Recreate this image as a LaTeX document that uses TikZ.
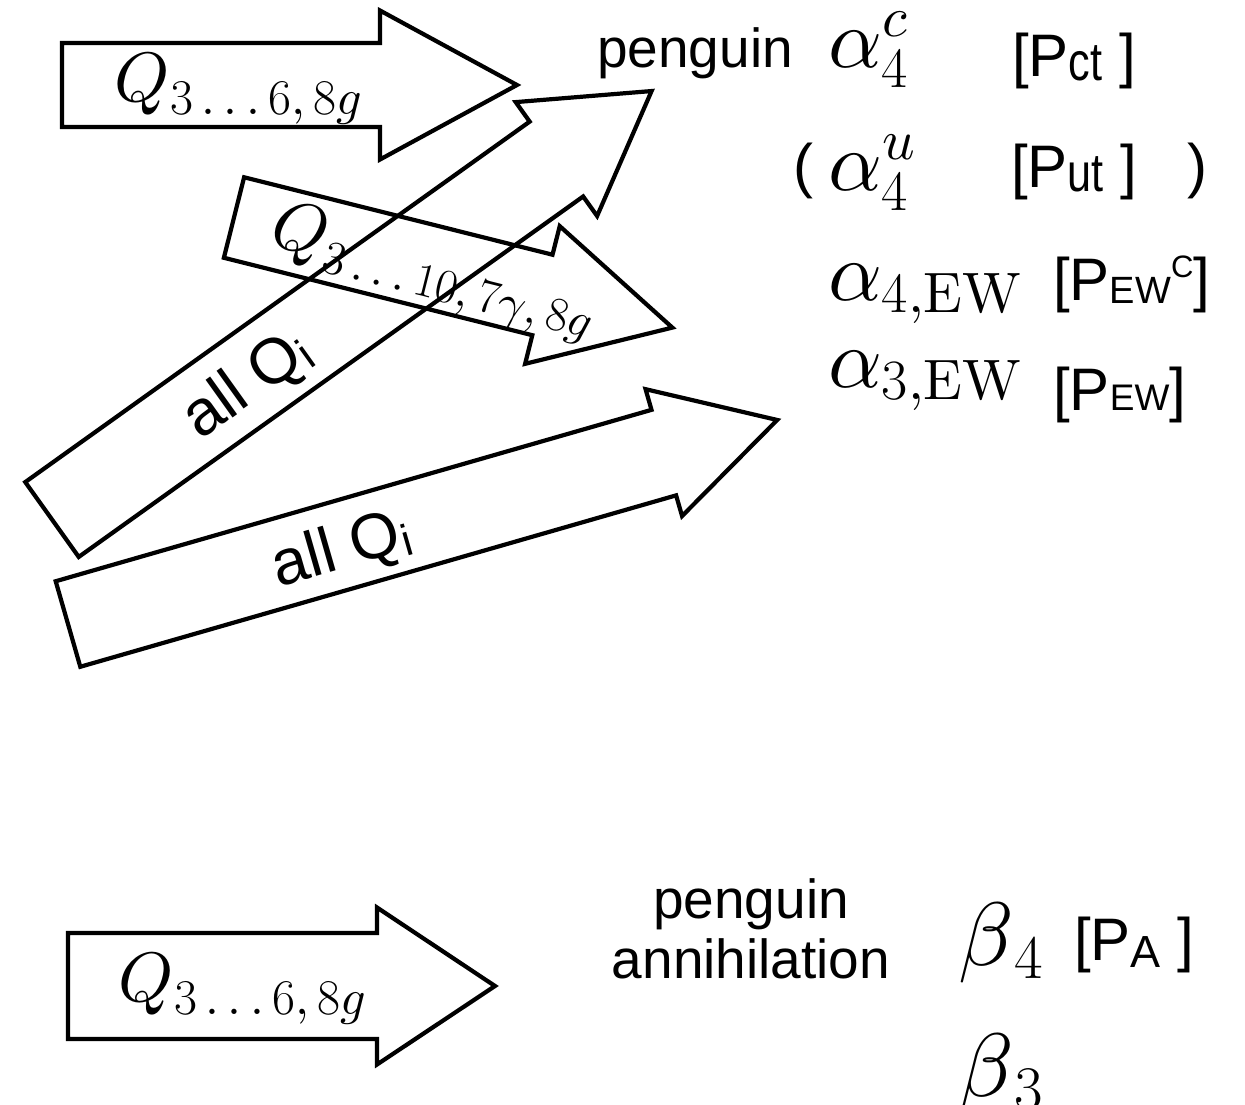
\RequirePackage{fix-cm}
\documentclass[tikz,border=0pt]{standalone}
\usepackage{fontspec}
% roman (and math digits) from the 10pt design at every size
\setmainfont{lmroman10}[Extension=.otf,UprightFont=*-regular,
  ItalicFont=*-italic,BoldFont=*-bold,BoldItalicFont=*-bolditalic]
\newfontfamily\hv{Liberation Sans}
% math italic from the 10pt design at every size
\DeclareFontShape{OML}{cmm}{m}{it}{<->cmmi10}{}
\DeclareFontShape{OMS}{cmsy}{m}{n}{<->cmsy10}{}
\usetikzlibrary{calc}

% math sizes: text / script / scriptscript
\DeclareMathSizes{84}{84}{57}{42}

% text and math sizes
\newcommand\hvtext{\hv\fontsize{55}{60}\selectfont}
\newcommand\hvbig{\hv\fontsize{60}{66}\selectfont}
\newcommand\mathbig{\fontsize{84}{90}\selectfont}
\newcommand\mathq{\fontsize{70}{76}\selectfont}
\newcommand\mathbeta{\fontsize{90}{96}\selectfont}
% lowered small sans subscript / raised small sans superscript
\newcommand\lowsub[3]{\raisebox{-#1pt}{\fontsize{#2}{#2}\selectfont #3}}
\newcommand\narrowsub[3]{\raisebox{-#1pt}{\scalebox{0.8}[1]{\fontsize{#2}{#2}\selectfont #3}}}
\newcommand\highsup[3]{\raisebox{#1pt}{\fontsize{#2}{#2}\selectfont #3}}
% lowered math index set at its own size: drop, size, formula
\newcommand\mindex[3]{\raisebox{-#1pt}{\fontsize{#2}{#2}\selectfont$#3$}}

% outlined block arrow in local coordinates:
% #1 body length, #2 body half width, #3 head half width, #4 head length
\newcommand\fatarrow[4]{%
  \coordinate (tail) at (0,0);
  \coordinate (tip) at ({#1+#4},0);
  \draw[arrowline] (0,-#2) -- (#1,-#2) -- (#1,-#3) -- (tip)
    -- (#1,#3) -- (#1,#2) -- (0,#2) -- cycle;}

\begin{document}
\begin{tikzpicture}[x=1pt,y=-1pt,
  arrowline/.style={line width=4.2pt,line join=miter,miter limit=10},
  mlabel/.style={inner sep=0pt,font=\mathbig},
  blabel/.style={inner sep=0pt,font=\mathbeta},
  qlabel/.style={inner sep=0pt,font=\mathq},
  slabel/.style={inner sep=0pt,font=\hvbig},
  tlabel/.style={inner sep=0pt,font=\hvtext},
  alabel/.style={inner sep=0pt,font=\hv\fontsize{64}{70}\selectfont}]
\useasboundingbox (0,0) rectangle (1245,1104);

% top horizontal arrow
\begin{scope}[shift={(62,85)}]
  \fatarrow{318}{42}{74.5}{137}
\end{scope}
\node[qlabel,anchor=base west] (q1) at (114,101)
  {$Q$\kern1pt\mindex{13}{50}{3\ldots6,8g}};

% long diagonal arrow
\begin{scope}[shift={(52,519.5)},rotate=35.55]
  \fatarrow{620}{46}{70}{117}
  \node[alabel,rotate=35.55] (all1) at (237,5) {all Q\lowsub{6}{44}{i}};
\end{scope}

% descending arrow
\begin{scope}[shift={(234,217.5)},rotate=-14.1]
  \fatarrow{318}{41.5}{71}{134}
  \node[qlabel,anchor=base west,rotate=-14.1] (q2) at (40,18)
    {$Q$\kern1pt\mindex{13}{48}{3\ldots10,7\gamma,8g}};
\end{scope}

% lower diagonal arrow
\begin{scope}[shift={(68,624)},rotate=16.05]
  \fatarrow{620}{44.5}{66}{118}
  \node[alabel,rotate=16.05] (all2) at (283,6) {all Q\lowsub{6}{44}{i}};
\end{scope}

% bottom horizontal arrow
\begin{scope}[shift={(68,986)}]
  \fatarrow{309}{53}{78.5}{118}
\end{scope}
\node[qlabel,anchor=base west] (q3) at (118,1001)
  {$Q$\kern1pt\mindex{13}{50}{3\ldots6,8g}};

% penguin contributions
\node[tlabel,anchor=base west] (peng) at (597,67) {penguin};
\node[mlabel,anchor=base west] (a4c) at (828,67) {$\alpha_4^c$};
\node[slabel,anchor=base west] (pct) at (1012,76) {[P\narrowsub{4}{54}{ct} ]};

\node[slabel,anchor=base west] (lp) at (793,186) {(};
\node[mlabel,anchor=base west] (a4u) at (828,190) {$\alpha_4^u$};
\node[slabel,anchor=base west] (put) at (1011,187) {[P\narrowsub{4}{54}{ut} ]};
\node[slabel,anchor=base west] (rp) at (1187,186) {)};

\node[mlabel,anchor=base west] (a4ew) at (828,300) {$\alpha_{4,\mathrm{EW}}$};
\node[slabel,anchor=base west] (pewc) at (1053,300)
  {[P\lowsub{3}{38}{EW}\highsup{23}{31}{C}]};

\node[mlabel,anchor=base west] (a3ew) at (828,387) {$\alpha_{3,\mathrm{EW}}$};
\node[slabel,anchor=base west] (pew) at (1053,410) {[P\lowsub{0}{37}{EW}]};

% annihilation contributions
\node[tlabel,anchor=base,align=center] (pann) at (751,978) {penguin\\annihilation};
\node[blabel,anchor=base west] (b4) at (958,965) {$\beta$\kern1pt\mindex{13}{62}{4}};
\node[slabel,anchor=base west] (pa) at (1074,960) {[P\lowsub{7}{45}{A} ]};
\node[blabel,anchor=base west] (b3) at (958,1096) {$\beta$\kern1pt\mindex{13}{62}{3}};
\end{tikzpicture}
\end{document}
